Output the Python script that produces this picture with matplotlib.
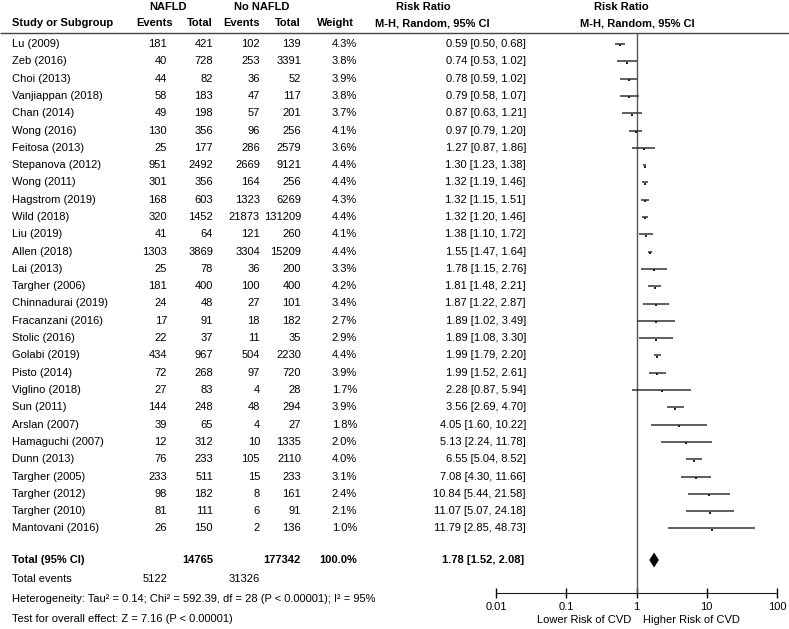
import matplotlib
matplotlib.use("Agg")
import matplotlib.pyplot as plt

plt.rcParams['font.family'] = ['Liberation Sans', 'DejaVu Sans']
plt.rcParams['font.size'] = 8

studies = ["Lu (2009)", "Zeb (2016)", "Choi (2013)", "Vanjiappan (2018)", "Chan (2014)",
           "Wong (2016)", "Feitosa (2013)", "Stepanova (2012)", "Wong (2011)", "Hagstrom (2019)",
           "Wild (2018)", "Liu (2019)", "Allen (2018)", "Lai (2013)", "Targher (2006)",
           "Chinnadurai (2019)", "Fracanzani (2016)", "Stolic (2016)", "Golabi (2019)", "Pisto (2014)",
           "Viglino (2018)", "Sun (2011)", "Arslan (2007)", "Hamaguchi (2007)", "Dunn (2013)",
           "Targher (2005)", "Targher (2012)", "Targher (2010)", "Mantovani (2016)"]
nafld_events = [181, 40, 44, 58, 49, 130, 25, 951, 301, 168, 320, 41, 1303, 25, 181,
                24, 17, 22, 434, 72, 27, 144, 39, 12, 76, 233, 98, 81, 26]
nafld_total = [421, 728, 82, 183, 198, 356, 177, 2492, 356, 603, 1452, 64, 3869, 78, 400,
               48, 91, 37, 967, 268, 83, 248, 65, 312, 233, 511, 182, 111, 150]
no_events = [102, 253, 36, 47, 57, 96, 286, 2669, 164, 1323, 21873, 121, 3304, 36, 100,
             27, 18, 11, 504, 97, 4, 48, 4, 10, 105, 15, 8, 6, 2]
no_total = [139, 3391, 52, 117, 201, 256, 2579, 9121, 256, 6269, 131209, 260, 15209, 200, 400,
            101, 182, 35, 2230, 720, 28, 294, 27, 1335, 2110, 233, 161, 91, 136]
weight = [4.3, 3.8, 3.9, 3.8, 3.7, 4.1, 3.6, 4.4, 4.4, 4.3, 4.4, 4.1, 4.4, 3.3, 4.2,
          3.4, 2.7, 2.9, 4.4, 3.9, 1.7, 3.9, 1.8, 2.0, 4.0, 3.1, 2.4, 2.1, 1.0]
rr = [0.59, 0.74, 0.78, 0.79, 0.87, 0.97, 1.27, 1.30, 1.32, 1.32, 1.32, 1.38, 1.55, 1.78, 1.81,
      1.87, 1.89, 1.89, 1.99, 1.99, 2.28, 3.56, 4.05, 5.13, 6.55, 7.08, 10.84, 11.07, 11.79]
lo = [0.50, 0.53, 0.59, 0.58, 0.63, 0.79, 0.87, 1.23, 1.19, 1.15, 1.20, 1.10, 1.47, 1.15, 1.48,
      1.22, 1.02, 1.08, 1.79, 1.52, 0.87, 2.69, 1.60, 2.24, 5.04, 4.30, 5.44, 5.07, 2.85]
hi = [0.68, 1.02, 1.02, 1.07, 1.21, 1.20, 1.86, 1.38, 1.46, 1.51, 1.46, 1.72, 1.64, 2.76, 2.21,
      2.87, 3.49, 3.30, 2.20, 2.61, 5.94, 4.70, 10.22, 11.78, 8.52, 11.66, 21.58, 24.18, 48.73]

total_rr, total_lo, total_hi = 1.78, 1.52, 2.08
total_n = [14765, 177342]
total_ev = [5122, 31326]
ticks = [0.01, 0.1, 1, 10, 100]
tick_labels = ["0.01", "0.1", "1", "10", "100"]

W, H = 789, 629
fig = plt.figure(figsize=(W / 100, H / 100), dpi=100)

# table in pixel coordinates
ax_t = fig.add_axes([0, 0, 1, 1])
ax_t.set_xlim(0, W)
ax_t.set_ylim(H, 0)
ax_t.axis('off')

row0, step = 44, 17.3
ys = [row0 + i * step for i in range(len(studies))]

bold = dict(fontweight='bold', va='center')
# header
ax_t.text(168, 7, "NAFLD", ha='center', **bold)
ax_t.text(262, 7, "No NAFLD", ha='center', **bold)
ax_t.text(423, 7, "Risk Ratio", ha='center', **bold)
ax_t.text(621, 7, "Risk Ratio", ha='center', **bold)
ax_t.text(12, 23, "Study or Subgroup", ha='left', **bold)
ax_t.text(173, 23, "Events", ha='right', **bold)
ax_t.text(213, 23, "Total", ha='right', **bold)
ax_t.text(260, 23, "Events", ha='right', **bold)
ax_t.text(301, 23, "Total", ha='right', **bold)
ax_t.text(354, 23, "Weight", ha='right', **bold)
ax_t.text(432, 23, "M-H, Random, 95% CI", ha='center', **bold)
ax_t.text(637, 23, "M-H, Random, 95% CI", ha='center', **bold)
ax_t.hlines(33, 0, W, color='#444444', lw=1)

for i, y in enumerate(ys):
    ax_t.text(12, y, studies[i], ha='left', va='center')
    ax_t.text(167, y, str(nafld_events[i]), ha='right', va='center')
    ax_t.text(213, y, str(nafld_total[i]), ha='right', va='center')
    ax_t.text(260, y, str(no_events[i]), ha='right', va='center')
    ax_t.text(301, y, str(no_total[i]), ha='right', va='center')
    ax_t.text(357, y, f"{weight[i]:.1f}%", ha='right', va='center')
    ax_t.text(526, y, f"{rr[i]:.2f} [{lo[i]:.2f}, {hi[i]:.2f}]", ha='right', va='center')

ty = 560
ax_t.text(12, ty, "Total (95% CI)", ha='left', **bold)
ax_t.text(213, ty, str(total_n[0]), ha='right', **bold)
ax_t.text(301, ty, str(total_n[1]), ha='right', **bold)
ax_t.text(357, ty, "100.0%", ha='right', **bold)
ax_t.text(524, ty, f"{total_rr:.2f} [{total_lo:.2f}, {total_hi:.2f}]", ha='right', **bold)
ax_t.text(12, 579, "Total events", ha='left', va='center')
ax_t.text(167, 579, str(total_ev[0]), ha='right', va='center')
ax_t.text(260, 579, str(total_ev[1]), ha='right', va='center')
ax_t.text(12, 599, "Heterogeneity: Tau² = 0.14; Chi² = 592.39, df = 28 (P < 0.00001); I² = 95%",
          ha='left', va='center')
ax_t.text(12, 619, "Test for overall effect: Z = 7.16 (P < 0.00001)", ha='left', va='center')
ax_t.text(631, 620, "Lower Risk of CVD", ha='right', va='center')
ax_t.text(643, 620, "Higher Risk of CVD", ha='left', va='center')

# forest plot
left, right, top, bottom = 496, 777, 33, 593
ax = fig.add_axes([left / W, (H - bottom) / H, (right - left) / W, (bottom - top) / H])
ax.set_xscale('log')
ax.set_xlim(0.01, 100)
ax.set_ylim(bottom, top)
ax.patch.set_alpha(0)
for s in ['top', 'right', 'left']:
    ax.spines[s].set_visible(False)
ax.spines['bottom'].set_color('#222222')
ax.set_yticks([])
ax.set_xticks(ticks)
ax.set_xticklabels(tick_labels)
ax.minorticks_off()
ax.tick_params(axis='x', direction='inout', length=7, width=1, pad=3, labelsize=8)
ax.axvline(1, color='#555555', lw=1)

for i, y in enumerate(ys):
    ax.hlines(y, lo[i], hi[i], color='#333333', lw=1.1)
    ax.plot(rr[i], y + 1.4, marker='s', color='#222222', ms=1.6 + 0.12 * weight[i], mew=0)

ax.fill([total_lo, total_rr, total_hi, total_rr], [ty, ty - 7.5, ty, ty + 7.5], color='black', lw=0)

plt.savefig("out.png", dpi=100)
